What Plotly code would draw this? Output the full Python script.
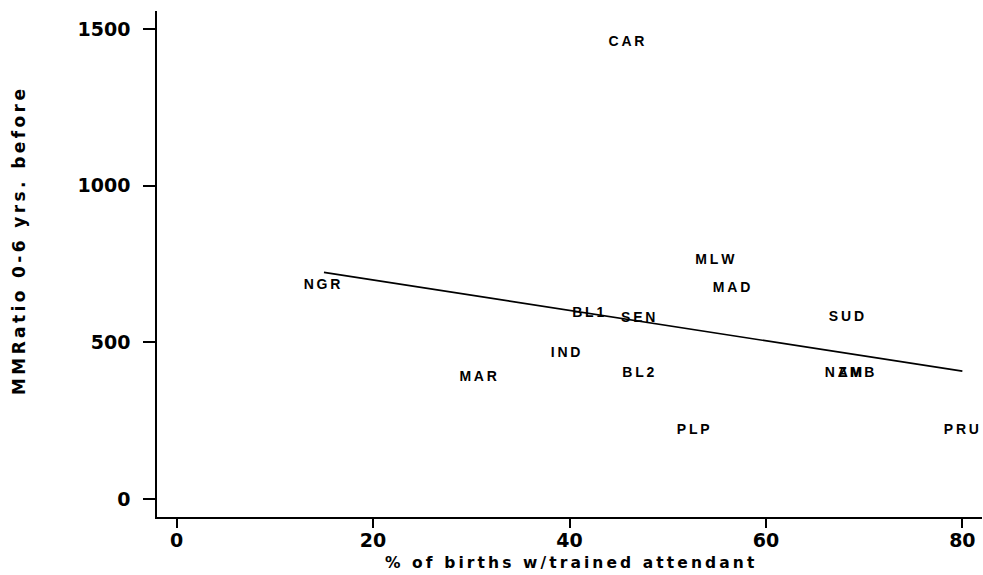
import plotly.graph_objects as go

# Country codes and their (% births w/ trained attendant, MMRatio) positions
countries = ["NGR", "MAR", "IND", "BL1", "SEN", "BL2", "CAR", "PLP",
             "MLW", "MAD", "SUD", "NAM", "ZMB", "PRU"]
pct_attended = [14.8, 30.7, 39.6, 41.9, 47.0, 47.0, 45.8, 52.6,
                54.8, 56.5, 68.2, 67.9, 69.2, 79.9]
mm_ratio = [682, 389, 465, 592, 576, 401, 1455, 220,
            761, 672, 580, 401, 401, 220]

# Fitted regression line end points
fit_x = [15, 80]
fit_y = [723, 408]

x_ticks = [0, 20, 40, 60, 80]
y_ticks = [0, 500, 1000, 1500]


def spaced(s, sep="\u2009"):
    # old plotter output has wide letter spacing, fake it with thin spaces
    return sep.join(s)


fig = go.Figure()
fig.add_trace(
    go.Scatter(
        x=fit_x,
        y=fit_y,
        mode="lines",
        line=dict(color="black", width=1.6),
        hoverinfo="skip",
    )
)
fig.add_trace(
    go.Scatter(
        x=pct_attended,
        y=mm_ratio,
        mode="text",
        text=[spaced(c) for c in countries],
        textposition="middle center",
        cliponaxis=False,
        textfont=dict(family="Liberation Sans", size=14, color="black", weight="bold"),
    )
)

fig.update_layout(
    width=983,
    height=575,
    margin=dict(l=157, r=1, t=11, b=58),
    paper_bgcolor="white",
    plot_bgcolor="white",
    showlegend=False,
    font=dict(family="DejaVu Sans", size=17, color="black"),
    annotations=[
        dict(
            text=spaced("% of births w/trained attendant"),
            xref="paper", yref="paper", x=0.5, y=0,
            yanchor="middle", yshift=-46, showarrow=False,
            font=dict(family="DejaVu Sans", size=15.5, weight="bold"),
        ),
        dict(
            text=spaced("MMRatio 0-6 yrs. before"),
            xref="paper", yref="paper", x=0, y=0.5435,
            xanchor="center", xshift=-138, textangle=-90, showarrow=False,
            font=dict(family="DejaVu Sans", size=17, weight="bold"),
        ),
    ],
)
fig.update_xaxes(
    range=[-2.0, 82.0],
    tickvals=x_ticks,
    ticktext=[str(v) for v in x_ticks],
    ticks="outside",
    ticklen=9,
    tickwidth=1.5,
    tickcolor="black",
    showline=True,
    linecolor="black",
    linewidth=1.6,
    showgrid=False,
    zeroline=False,
    ticklabelstandoff=-4,
    tickfont=dict(family="DejaVu Sans", size=19, weight="bold"),
)
fig.update_yaxes(
    range=[-57.4, 1557],
    tickvals=y_ticks,
    ticktext=[str(v) for v in y_ticks],
    ticks="outside",
    ticklen=12,
    tickwidth=1.5,
    tickcolor="black",
    showline=True,
    linecolor="black",
    linewidth=1.6,
    showgrid=False,
    zeroline=False,
    ticklabelstandoff=9,
    tickfont=dict(family="DejaVu Sans", size=19, weight="bold"),
)

# drop the default page margin so the 983x575 figure fills the window exactly
fig.write_html(
    "out.html",
    config={"displayModeBar": False},
    post_script="document.body.style.margin='0';",
)
